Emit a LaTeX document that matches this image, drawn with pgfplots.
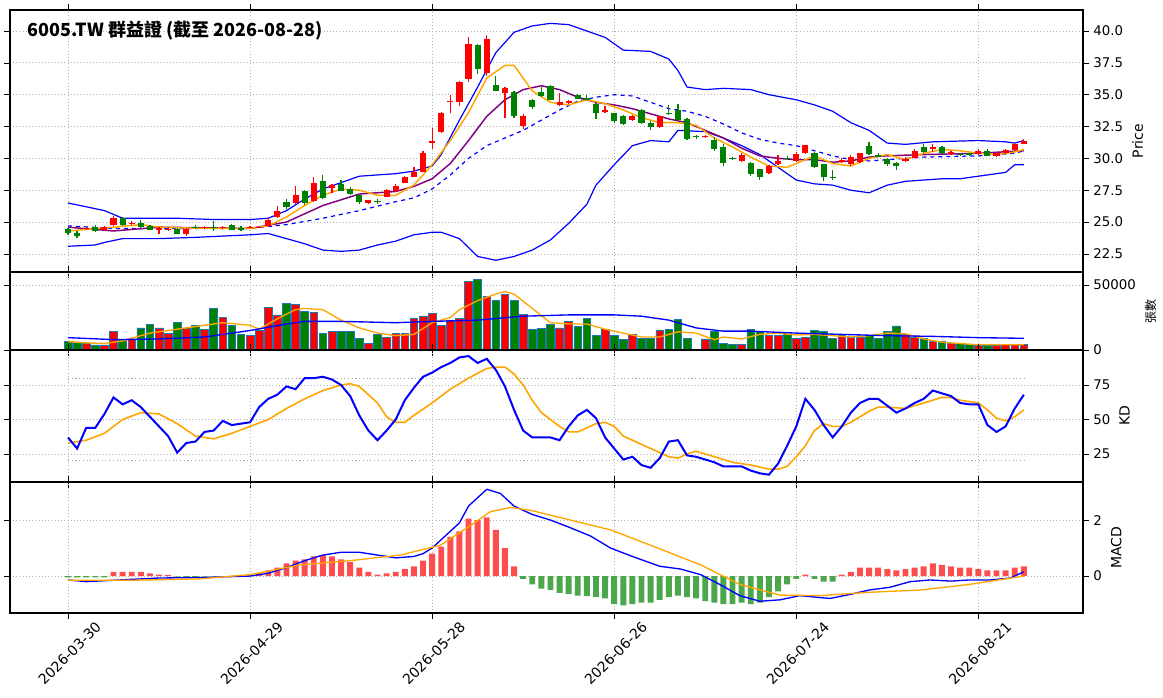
\documentclass[border=0pt]{standalone}
\usepackage{pgfplots}
\pgfplotsset{compat=1.18}
\usepackage{pgfplotstable}
\usepackage{fontspec}
\setmainfont{DejaVu Sans}
\newfontfamily\cjk{Noto Sans CJK TC}
\definecolor{cred}{RGB}{255,0,0}
\definecolor{cgreen}{RGB}{0,128,0}
\definecolor{hred}{RGB}{255,77,77}
\definecolor{hgreen}{RGB}{76,166,76}
\definecolor{edge}{RGB}{31,119,180}
\definecolor{mpurple}{RGB}{128,0,128}
\definecolor{morange}{RGB}{255,165,0}

\pgfplotstableread{
x o h l c
2 24.45 24.6 24.35 24.50
4 24.40 24.7 24.3 24.60
5 24.75 25.5 24.7 25.30
7 24.85 25.05 24.8 24.95
10 24.35 24.6 24.1 24.55
11 24.43 24.6 24.3 24.47
13 24.05 24.5 23.9 24.45
15 24.55 24.7 24.45 24.59
17 24.58 24.7 24.45 24.62
20 24.58 24.7 24.5 24.62
21 24.58 24.7 24.5 24.62
22 24.70 25.35 24.65 25.20
23 25.40 26.3 25.35 25.90
25 26.50 27.8 26.4 27.15
27 26.65 28.5 26.6 28.10
29 27.65 28.0 27.3 27.90
33 26.50 26.75 26.45 26.70
35 27.00 27.6 26.95 27.50
36 27.40 27.95 27.35 27.85
37 28.10 28.65 28.05 28.55
38 28.55 29.3 28.5 28.90
39 28.95 30.6 28.9 30.45
40 31.20 32.4 30.7 31.40
41 32.10 33.65 32.0 33.60
42 34.40 35.0 33.6 34.50
43 34.40 36.05 34.1 36.00
44 36.20 39.55 36.0 39.00
46 36.70 39.65 36.5 39.35
48 35.10 35.6 33.2 35.50
50 32.55 33.45 32.3 33.35
54 34.20 35.1 34.1 34.40
55 34.35 34.55 34.3 34.50
59 33.65 34.1 33.6 33.80
62 33.00 33.4 32.95 33.30
65 32.50 33.35 32.4 33.30
70 31.68 31.8 31.6 31.72
74 29.78 30.4 29.7 30.25
77 28.87 29.45 28.8 29.37
78 29.57 30.3 29.5 29.78
80 29.78 30.5 29.7 30.35
81 30.40 31.05 30.35 31.02
85 29.68 30.05 29.6 29.88
86 29.57 30.3 29.4 30.09
87 29.68 30.45 29.6 30.40
92 29.78 30.1 29.7 29.99
93 30.04 30.7 30.0 30.56
95 30.76 31.1 30.5 30.87
97 30.35 30.55 30.3 30.50
100 30.35 30.75 30.3 30.61
102 30.20 30.45 30.1 30.40
103 30.40 30.7 30.35 30.66
104 30.66 31.2 30.6 31.13
105 31.13 31.55 31.1 31.39
}\upc
\pgfplotstableread{
x o h l c
0 24.43 24.55 24.0 24.12
1 24.12 24.3 23.75 23.90
3 24.60 24.75 24.2 24.30
6 25.35 25.4 24.7 24.75
8 24.95 25.15 24.55 24.65
9 24.70 24.8 24.35 24.40
12 24.45 24.5 24.05 24.10
14 24.65 24.75 24.45 24.55
16 24.62 25.1 24.3 24.58
18 24.75 24.85 24.35 24.40
19 24.55 24.7 24.3 24.40
24 26.55 26.85 26.0 26.15
26 27.45 27.5 26.35 26.50
28 28.20 28.7 26.8 26.90
30 27.95 28.3 27.4 27.45
31 27.60 27.75 27.1 27.20
32 27.15 27.2 26.4 26.60
34 26.62 26.85 26.4 26.58
45 38.90 39.0 36.6 37.00
47 35.80 36.5 35.3 35.30
49 35.25 35.3 33.2 33.30
51 34.60 34.7 33.9 34.00
52 35.25 35.6 34.85 34.90
53 35.70 35.8 34.55 34.60
56 35.00 35.05 34.65 34.70
57 34.75 35.0 34.55 34.60
58 34.30 34.35 33.1 33.55
60 33.55 33.6 32.8 32.90
61 33.35 33.4 32.6 32.70
63 33.80 33.9 32.7 32.75
64 32.80 32.9 32.25 32.50
66 33.60 34.2 33.4 33.45
67 33.80 34.3 32.9 33.00
68 33.10 33.15 31.45 31.50
69 31.72 31.8 31.5 31.68
71 31.45 31.7 30.6 30.70
72 30.90 31.1 29.4 29.60
73 30.02 30.1 29.9 29.98
75 29.62 29.7 28.6 28.74
76 29.13 29.2 28.3 28.54
79 30.06 30.2 29.9 30.02
82 30.45 30.5 29.25 29.30
83 29.52 29.55 28.2 28.54
84 28.56 29.1 28.3 28.52
88 30.97 31.3 30.3 30.35
89 30.30 30.4 30.1 30.14
90 29.99 30.05 29.4 29.52
91 29.67 29.75 29.1 29.42
94 30.87 31.1 30.45 30.50
96 30.87 30.95 30.35 30.40
98 30.35 30.45 30.2 30.25
99 30.40 30.45 30.2 30.30
101 30.61 30.75 30.15 30.20
}\dnc

\pgfplotstableread{
x v
2 5000
4 3900
5 14000
7 8000
10 17000
11 13000
13 17000
15 16000
17 25000
20 11000
21 15000
22 33000
23 27000
25 35000
27 29000
29 14000
33 5000
35 9500
36 13000
37 13000
38 24000
39 26000
40 28000
41 19000
42 23000
43 24000
44 52500
46 41000
48 43000
50 27500
54 17000
55 22000
59 16000
62 12000
65 15000
70 8500
74 4000
77 11500
78 11500
80 9000
81 10000
85 11500
86 10000
87 10000
92 12000
93 10000
95 6500
97 5000
100 3500
102 3500
103 4000
104 4000
105 4500
}\upv
\pgfplotstableread{
x v
0 6400
1 6000
3 3900
6 8000
8 17000
9 20000
12 21000
14 19000
16 32000
18 19000
19 12000
24 36000
26 30000
28 13000
30 14000
31 14000
32 9000
34 12000
45 54000
47 38000
49 38000
51 16000
52 16500
53 20000
56 18000
57 24000
58 11000
60 11500
61 8000
63 9000
64 9000
66 16000
67 23500
68 9000
71 14000
72 5000
73 4000
75 16000
76 14000
79 12000
82 15000
83 14500
84 9000
88 11500
89 9000
90 14000
91 18500
94 9000
96 6500
98 5000
99 4000
101 3500
}\dnv

\pgfplotsset{
  panel/.style={
    width=804.75pt, scale only axis, anchor=north west,
    xmin=-6.37, xmax=111.5,
    xtick={0,20,40,60,80,100},
    grid=major, grid style={gray!60, dotted, line width=0.6pt},
    yticklabel pos=right, ylabel near ticks,
    tick align=outside, tick style={black, thin},
    axis line style={black, line width=0.8pt},
    ticklabel style={font=\fontsize{10}{12}\selectfont},
    ylabel style={font=\fontsize{10.5}{12}\selectfont},
    /pgf/number format/assume math mode=true,
    /pgf/number format/1000 sep={},
    clip=true,
  },
  noxlab/.style={xticklabels={}},
}

\begin{document}
\begin{tikzpicture}
\useasboundingbox (0,0) rectangle (872.25pt,-523.5pt);

% ---------- price panel ----------
\begin{axis}[panel, noxlab, at={(7.5pt,-7.5pt)}, height=196.5pt,
  ymin=21.08, ymax=41.65, ytick={22.5,25,27.5,30,32.5,35,37.5,40},
  yticklabel style={/pgf/number format/.cd, fixed, fixed zerofill, precision=1},
  ylabel={Price}]
\addplot[blue, line width=0.9pt] coordinates {(0,26.5)(2,26.2)(4,25.9)(6,25.3)(8,25.3)(12,25.3)(16,25.2)(20,25.2)(22,25.3)(24,25.9)(26,26.8)(28,27.6)(30,28.1)(32,28.6)(36,28.8)(38,29.0)(40,29.4)(41,30.3)(43,33.0)(45,35.6)(47,38.3)(49,39.9)(51,40.4)(53,40.6)(55,40.5)(57,40.0)(59,39.5)(61,38.5)(64,38.4)(66,37.8)(67,36.9)(68,35.6)(70,35.4)(72,35.5)(75,35.4)(77,35.0)(80,34.6)(82,34.2)(84,33.7)(86,32.8)(88,32.2)(90,31.2)(92,31.1)(95,31.3)(100,31.4)(103,31.3)(104,31.2)(105,31.4)};
\addplot[blue, line width=0.9pt] coordinates {(0,23.1)(3,23.2)(4,23.4)(6,23.7)(10,23.7)(14,23.8)(20,24.0)(22,24.1)(24,23.7)(26,23.3)(28,22.8)(30,22.7)(32,22.8)(34,23.2)(36,23.5)(38,24.0)(40,24.2)(41,24.2)(43,23.7)(45,22.3)(47,22.0)(49,22.3)(51,22.8)(53,23.6)(55,24.9)(57,26.4)(58,27.9)(60,29.5)(62,31.0)(64,31.4)(66,31.3)(67,32.2)(70,32.1)(72,31.6)(74,31.0)(76,30.3)(78,29.3)(80,28.3)(82,28.0)(84,27.9)(86,27.5)(88,27.3)(90,27.9)(92,28.2)(94,28.3)(96,28.4)(98,28.4)(100,28.6)(102,28.8)(103,28.9)(104,29.5)(105,29.5)};
\addplot[blue, dashed, line width=0.9pt] coordinates {(0,24.7)(5,24.5)(10,24.5)(20,24.5)(24,24.8)(28,25.3)(32,25.9)(36,26.6)(38,26.9)(40,27.6)(42,28.7)(44,30.0)(46,31.0)(48,31.6)(50,32.2)(52,33.0)(54,33.8)(56,34.5)(58,34.8)(60,35.0)(62,34.9)(64,34.4)(66,33.9)(68,33.7)(70,33.3)(72,32.7)(74,32.0)(76,31.5)(78,31.2)(80,31.0)(82,30.6)(84,30.2)(86,29.9)(88,29.8)(90,29.9)(94,30.1)(100,30.2)(104,30.4)(105,30.6)};
\addplot[mpurple, line width=1.1pt] coordinates {(0,24.6)(5,24.3)(10,24.6)(20,24.5)(24,25.0)(28,26.3)(32,27.2)(36,27.4)(38,27.8)(40,28.4)(42,29.6)(44,31.4)(46,33.3)(48,34.6)(50,35.4)(52,35.7)(54,35.4)(56,34.8)(58,34.4)(60,34.2)(62,33.9)(64,33.5)(66,33.1)(68,32.8)(70,32.2)(72,31.6)(74,30.8)(76,30.2)(78,30.0)(80,29.9)(82,29.9)(84,29.7)(86,29.8)(88,30.1)(90,30.2)(94,30.3)(100,30.4)(105,30.6)};
\addplot[morange, line width=1.1pt] coordinates {(0,24.3)(5,24.6)(8,24.8)(10,24.6)(15,24.5)(20,24.5)(22,24.7)(24,25.4)(26,26.3)(28,27.1)(30,27.6)(32,27.5)(34,27.1)(36,27.1)(38,27.9)(40,29.5)(42,31.4)(44,33.6)(46,36.3)(48,37.3)(49,37.3)(50,36.3)(51,35.3)(53,34.4)(55,34.2)(57,34.6)(59,34.3)(61,33.8)(63,33.2)(65,32.8)(67,32.8)(69,32.6)(71,31.6)(73,30.9)(75,30.1)(77,29.4)(79,29.3)(81,29.9)(82,30.2)(84,29.6)(86,29.4)(88,30.0)(90,30.3)(92,29.9)(94,30.4)(96,30.7)(98,30.6)(100,30.4)(102,30.3)(104,30.5)(105,30.7)};
\addplot[draw=none, cred, error bars/.cd, y dir=plus, y explicit, error mark=none, error bar style={cred, line width=0.9pt}]
  table[x=x, y=l, y error expr=\thisrow{h}-\thisrow{l}] {\upc};
\addplot[draw=none, cgreen, error bars/.cd, y dir=plus, y explicit, error mark=none, error bar style={cgreen, line width=0.9pt}]
  table[x=x, y=l, y error expr=\thisrow{h}-\thisrow{l}] {\dnc};
\addplot[draw=none, cred, error bars/.cd, y dir=plus, y explicit, error mark=none, error bar style={cred, line width=4.6pt, line cap=butt}]
  table[x=x, y=o, y error expr=\thisrow{c}-\thisrow{o}] {\upc};
\addplot[draw=none, cgreen, error bars/.cd, y dir=plus, y explicit, error mark=none, error bar style={cgreen, line width=4.6pt, line cap=butt}]
  table[x=x, y=c, y error expr=\thisrow{o}-\thisrow{c}] {\dnc};
\node[anchor=west, font=\cjk\bfseries\fontsize{13.5}{15}\selectfont] at (rel axis cs:0.012,0.92) {6005.TW 群益證 (截至 2026-08-28)};
\end{axis}

% ---------- volume panel ----------
\begin{axis}[panel, noxlab, at={(7.5pt,-204pt)}, height=58.5pt,
  ymin=0, ymax=60000, ytick={0,50000}, scaled y ticks=false,
  ylabel={\cjk 張數}, ylabel style={font=\cjk\fontsize{9}{10}\selectfont}]
\addplot[ybar, bar width=0.85, bar shift=0pt, fill=cred, draw=edge, line width=0.5pt] table[x=x,y=v] {\upv};
\addplot[ybar, bar width=0.85, bar shift=0pt, fill=cgreen, draw=edge, line width=0.5pt] table[x=x,y=v] {\dnv};
\addplot[morange, line width=1pt] coordinates {(0,6400)(2,5500)(4,5000)(6,7000)(9,13000)(13,17000)(17,21000)(20,19000)(21,16000)(23,24000)(25,31000)(26,32000)(28,31000)(30,23000)(32,17000)(34,13000)(36,11000)(38,12000)(40,21000)(42,25000)(43,31000)(45,38000)(47,43000)(48,45000)(49,43000)(51,32000)(53,21000)(55,20000)(57,20000)(59,16000)(61,13000)(63,10000)(65,10000)(67,14000)(69,13000)(71,8000)(72,10000)(74,8500)(76,12000)(78,13000)(80,11500)(82,12000)(84,11000)(86,10000)(88,11000)(90,13000)(92,12500)(94,8500)(96,6000)(98,5000)(100,4000)(105,4000)};
\addplot[blue, line width=1pt] coordinates {(0,9500)(5,8000)(10,8500)(15,10000)(20,15000)(24,20000)(26,22000)(30,22000)(36,21000)(40,22000)(45,23000)(50,26000)(55,27000)(60,27000)(63,26000)(66,23000)(69,17000)(72,14500)(75,14500)(80,13000)(85,12000)(90,11000)(95,10500)(100,9500)(105,9000)};
\end{axis}

% ---------- KD panel ----------
\begin{axis}[panel, noxlab, at={(7.5pt,-262.5pt)}, height=99pt,
  ymin=4.7, ymax=100.4, ytick={25,50,75}, ylabel={KD}]
\addplot[gray!70, dotted, line width=0.8pt] coordinates {(0,20)(105,20)};
\addplot[gray!70, dotted, line width=0.8pt] coordinates {(0,80)(105,80)};
\addplot[morange, line width=1.2pt] coordinates {(0,33)(2,35)(4,40)(6,50)(8,55)(10,54)(12,47)(14,38)(16,36)(18,40)(20,45)(22,50)(24,58)(26,65)(28,71)(30,75)(31,76)(32,74)(34,62)(35,52)(36,48)(37,48)(38,53)(40,62)(42,72)(44,80)(46,87)(47,88)(48,88)(49,83)(50,75)(51,64)(52,55)(54,45)(55,41)(56,41)(57,44)(58,47)(59,48)(60,45)(61,38)(63,32)(65,26)(66,23)(67,22)(68,25)(69,27)(70,25)(71,23)(73,19)(75,17)(77,14)(78,14)(79,16)(80,23)(81,31)(82,42)(83,47)(84,45)(85,45)(86,48)(87,52)(88,56)(89,59)(90,59)(92,58)(94,62)(95,64)(96,66)(97,66)(98,64)(100,62)(101,57)(102,51)(103,49)(104,52)(105,57)};
\addplot[blue, line width=1.5pt] coordinates {(0,37)(1,29)(2,44)(3,44)(4,54)(5,66)(6,61)(7,64)(8,59)(9,52)(10,45)(11,38)(12,26)(13,33)(14,34)(15,41)(16,42)(17,49)(18,46)(19,47)(20,48)(21,59)(22,65)(23,68)(24,74)(25,72)(26,80)(27,80)(28,81)(29,79)(30,75)(31,67)(32,53)(33,42)(34,35)(35,42)(36,50)(37,64)(38,73)(39,81)(40,84)(41,88)(42,91)(43,95)(44,96)(45,91)(46,94)(47,86)(48,74)(49,57)(50,42)(51,37)(52,37)(53,37)(54,35)(55,45)(56,53)(57,57)(58,51)(59,37)(60,29)(61,21)(62,23)(63,17)(64,15)(65,22)(66,34)(67,35)(68,24)(69,23)(70,21)(71,19)(72,16)(73,16)(74,16)(75,13)(76,11)(77,10)(78,18)(79,31)(80,45)(81,65)(82,57)(83,46)(84,37)(85,45)(86,55)(87,62)(88,65)(89,65)(90,60)(91,55)(92,58)(93,62)(94,65)(95,71)(96,69)(97,67)(98,62)(99,61)(100,61)(101,46)(102,41)(103,45)(104,58)(105,68)};
\end{axis}

% ---------- MACD panel ----------
\begin{axis}[panel, at={(7.5pt,-361.5pt)}, height=98.25pt,
  ymin=-1.32, ymax=3.36, ytick={0,2}, ylabel={MACD},
  xticklabels={2026-03-30,2026-04-29,2026-05-28,2026-06-26,2026-07-24,2026-08-21},
  xticklabel style={xshift=20pt, rotate=45, anchor=north east, inner sep=1pt, font=\fontsize{10.5}{12}\selectfont}]
\addplot[ybar, bar width=0.65, bar shift=0pt, fill=hred, draw=none] coordinates {(5,0.15)(6,0.15)(7,0.15)(8,0.15)(9,0.1)(10,0.05)(11,0.03)(20,0.02)(21,0.1)(22,0.2)(23,0.3)(24,0.45)(25,0.55)(26,0.6)(27,0.7)(28,0.75)(29,0.7)(30,0.6)(31,0.5)(32,0.3)(33,0.15)(34,0.05)(35,0.1)(36,0.15)(37,0.25)(38,0.35)(39,0.55)(40,0.8)(41,1.05)(42,1.4)(43,1.6)(44,2.05)(45,2.0)(46,2.1)(47,1.65)(48,1.0)(49,0.35)(81,0.05)(85,0.05)(86,0.15)(87,0.3)(88,0.3)(89,0.3)(90,0.25)(91,0.2)(92,0.25)(93,0.3)(94,0.35)(95,0.45)(96,0.4)(97,0.35)(98,0.3)(99,0.3)(100,0.25)(101,0.2)(102,0.2)(103,0.2)(104,0.3)(105,0.35)};
\addplot[ybar, bar width=0.65, bar shift=0pt, fill=hgreen, draw=none] coordinates {(0,-0.05)(1,-0.05)(2,-0.05)(3,-0.05)(4,-0.05)(12,-0.02)(13,-0.03)(14,-0.03)(15,-0.02)(16,-0.02)(17,-0.02)(18,-0.02)(19,-0.02)(50,-0.1)(51,-0.3)(52,-0.45)(53,-0.5)(54,-0.6)(55,-0.65)(56,-0.7)(57,-0.72)(58,-0.75)(59,-0.8)(60,-1.0)(61,-1.05)(62,-1.0)(63,-0.95)(64,-0.95)(65,-0.85)(66,-0.75)(67,-0.7)(68,-0.75)(69,-0.8)(70,-0.9)(71,-0.95)(72,-1.0)(73,-1.0)(74,-0.95)(75,-1.0)(76,-0.95)(77,-0.75)(78,-0.55)(79,-0.3)(80,-0.1)(82,-0.1)(83,-0.2)(84,-0.2)};
\addplot[blue, line width=1pt] coordinates {(0,-0.14)(2,-0.2)(5,-0.15)(10,-0.07)(15,-0.05)(20,0.0)(22,0.1)(24,0.3)(26,0.55)(28,0.75)(30,0.85)(32,0.85)(34,0.75)(36,0.65)(38,0.7)(39,0.8)(40,1.0)(41,1.3)(43,1.9)(44,2.5)(46,3.1)(47.5,2.95)(49,2.5)(51,2.2)(53,2.0)(55,1.75)(57.4,1.43)(59.6,1.0)(62,0.7)(65,0.35)(67.3,0.25)(69.5,0.05)(71.6,-0.3)(73.8,-0.7)(76,-0.9)(78.2,-0.85)(80.4,-0.7)(82,-0.75)(83.7,-0.8)(86,-0.65)(88,-0.5)(90.3,-0.4)(92.5,-0.2)(94.7,-0.14)(97,-0.18)(99,-0.14)(101.3,-0.14)(103.5,-0.07)(105,0.15)};
\addplot[morange, line width=1pt] coordinates {(0,-0.15)(7,-0.15)(14.5,-0.1)(20,0.05)(25.5,0.4)(31,0.55)(36.5,0.75)(40.9,1.1)(44.2,1.8)(46.4,2.3)(48.6,2.45)(50.8,2.35)(55.2,2.0)(59.6,1.65)(64,1.1)(69.5,0.4)(73.8,-0.3)(78.2,-0.68)(82.6,-0.7)(88,-0.58)(93.6,-0.5)(99,-0.3)(105,0.0)};
\end{axis}
\end{tikzpicture}
\end{document}
